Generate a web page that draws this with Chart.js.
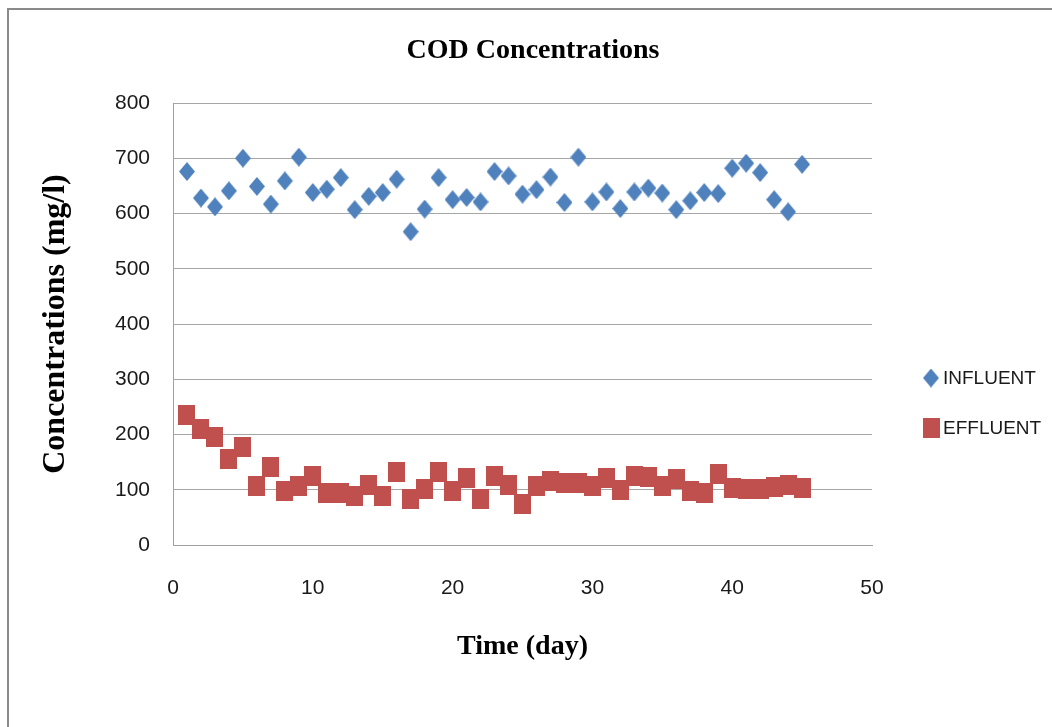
<!DOCTYPE html>
<html>
<head>
<meta charset="utf-8">
<script src="https://cdn.jsdelivr.net/npm/chart.js@4/dist/chart.umd.min.js"></script>
<style>
  body { margin: 0; background: #fff; }
  #frame {
    position: absolute; left: 7px; top: 8px; right: 0; bottom: 0;
    border-left: 2px solid #8a8a8a; border-top: 2px solid #8a8a8a;
  }
  #wrap { position: absolute; left: 0; top: 0; width: 1052px; height: 727px; }
</style>
</head>
<body>
<div id="frame"></div>
<div id="wrap"><canvas id="codChart" width="1052" height="727"></canvas></div>
<script>
// days 1..45
const days = [1, 2, 3, 4, 5, 6, 7, 8, 9, 10, 11, 12, 13, 14, 15, 16, 17, 18, 19, 20, 21, 22, 23,
  24, 25, 26, 27, 28, 29, 30, 31, 32, 33, 34, 35, 36, 37, 38, 39, 40, 41, 42, 43, 44, 45];

const influent = [676, 628, 612, 641, 700, 649, 617, 659, 702, 638, 644, 665, 607, 631, 638, 662,
  567, 608, 665, 625, 629, 621, 676, 668, 635, 643, 666, 620, 702, 621, 639, 609, 639, 646, 637,
  607, 623, 638, 636, 682, 691, 674, 625, 603, 689];

const effluent = [235, 210, 196, 155, 178, 107, 142, 97, 107, 125, 94, 94, 88, 109, 88, 133,
  83, 102, 133, 97, 122, 83, 125, 108, 75, 107, 116, 112, 113, 107, 122, 100, 125, 123, 107,
  119, 97, 95, 129, 104, 101, 102, 105, 108, 103];

const yTicks = [0, 100, 200, 300, 400, 500, 600, 700, 800];
const xTicks = [0, 10, 20, 30, 40, 50];

const blue = "#4F81BD";
const red = "#C0504D";

// excel markers come out a bit taller than wide
function makeMarker(kind, w, h, color) {
  const c = document.createElement("canvas");
  c.width = w;
  c.height = h;
  const g = c.getContext("2d");
  g.fillStyle = color;
  g.beginPath();
  if (kind === "diamond") {
    g.moveTo(w / 2, 0);
    g.lineTo(w, h / 2);
    g.lineTo(w / 2, h);
    g.lineTo(0, h / 2);
    g.closePath();
  } else {
    g.rect(0, 0, w, h);
  }
  g.fill();
  return c;
}

const diamond = makeMarker("diamond", 16, 19, blue);
const square = makeMarker("square", 17, 20, red);

const tickFont = { family: "'Liberation Sans', sans-serif", size: 21 };
const serifBold = { family: "'Liberation Serif', serif", weight: "bold" };

const sideLegend = {
  id: "sideLegend",
  afterDraw(chart) {
    const ctx = chart.ctx;
    const marks = [diamond, square];
    const rows = [378, 428];
    ctx.save();
    ctx.font = "19px 'Liberation Sans', sans-serif";
    ctx.fillStyle = "#1a1a1a";
    ctx.textBaseline = "middle";
    chart.data.datasets.forEach((ds, i) => {
      const m = marks[i];
      ctx.drawImage(m, 931 - m.width / 2, rows[i] - m.height / 2);
      ctx.fillText(ds.label, 943, rows[i] + 1);
    });
    ctx.restore();
  },
};

const ctx = document.getElementById("codChart").getContext("2d");
new Chart(ctx, {
  type: "scatter",
  data: {
    datasets: [
      {
        label: "INFLUENT",
        data: days.map((d, i) => ({ x: d, y: influent[i] })),
        pointStyle: diamond,
        backgroundColor: blue,
        borderColor: blue,
      },
      {
        label: "EFFLUENT",
        data: days.map((d, i) => ({ x: d, y: effluent[i] })),
        pointStyle: square,
        backgroundColor: red,
        borderColor: red,
      },
    ],
  },
  options: {
    responsive: false,
    animation: false,
    layout: { padding: { left: 14, right: 0, top: 0, bottom: 0 } },
    plugins: {
      legend: { display: false },
      tooltip: { enabled: false },
      title: {
        display: true,
        text: "COD Concentrations",
        color: "#000",
        font: { ...serifBold, size: 28, lineHeight: 1.2 },
        padding: { top: 34, bottom: 35.4 },
      },
    },
    scales: {
      x: {
        type: "linear",
        min: 0,
        max: 50,
        afterBuildTicks: (s) => { s.ticks = xTicks.map((v) => ({ value: v })); },
        afterFit: (s) => { s.height = 182; },
        ticks: { color: "#1a1a1a", font: tickFont, padding: 31 },
        grid: { display: false, drawTicks: false },
        border: { color: "#a0a0a0", width: 1 },
        title: {
          display: true,
          text: "Time (day)",
          color: "#000",
          font: { ...serifBold, size: 28, lineHeight: 1.2 },
          padding: { top: 0, bottom: 63 },
        },
      },
      y: {
        min: 0,
        max: 800,
        afterBuildTicks: (s) => { s.ticks = yTicks.map((v) => ({ value: v })); },
        afterFit: (s) => { s.width = 159; },
        ticks: { color: "#1a1a1a", font: tickFont, padding: 23 },
        grid: { color: "#a6a6a6", lineWidth: 1, drawTicks: false },
        border: { color: "#a0a0a0", width: 1 },
        title: {
          display: true,
          text: "Concentrations (mg/l)",
          color: "#000",
          font: { ...serifBold, size: 32, lineHeight: 1.2 },
          padding: { top: 23, bottom: 0 },
        },
      },
      yRight: {
        position: "right",
        min: 0,
        max: 1,
        afterFit: (s) => { s.width = 180; },
        ticks: { display: false },
        grid: { display: false, drawTicks: false },
        border: { display: false },
      },
    },
  },
  plugins: [sideLegend],
});
</script>
</body>
</html>
